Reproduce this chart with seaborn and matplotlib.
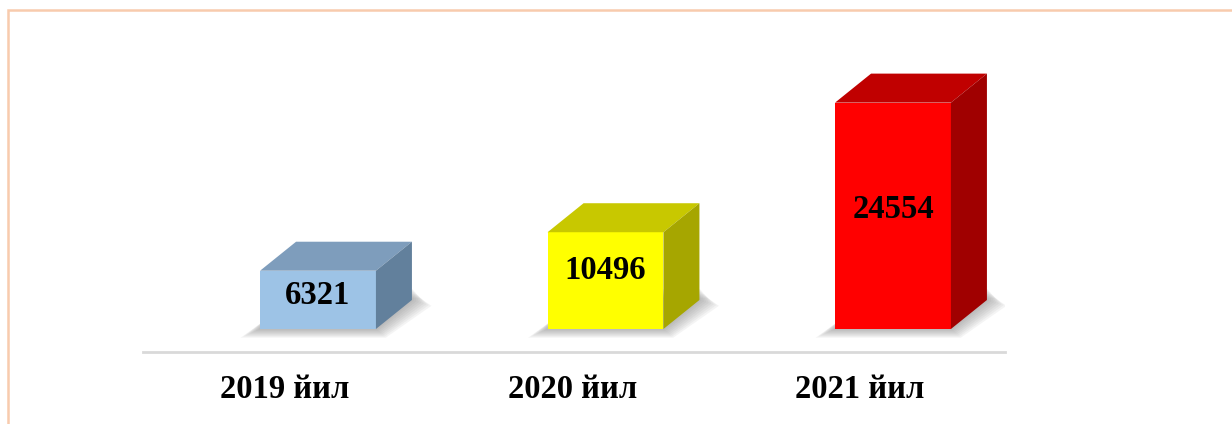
import matplotlib.pyplot as plt
import seaborn as sns
import pandas as pd
from matplotlib.patches import Polygon, Rectangle
from matplotlib.transforms import ScaledTranslation

# data
years = ['2019 йил', '2020 йил', '2021 йил']
values = [6321, 10496, 24554]
front_colors = ['#9DC3E6', '#FFFF00', '#FF0000']
top_colors = ['#7E9DBC', '#C8C800', '#C00000']
side_colors = ['#62809C', '#A6A600', '#A00000']

df = pd.DataFrame({'year': years, 'value': values})

sns.set_style('white')
plt.rcParams['font.family'] = ['Liberation Serif', 'DejaVu Serif']

W, H = 1232, 424
fig = plt.figure(figsize=(W / 100, H / 100), dpi=100)

# axes placed in pixel terms: baseline line at y=352, x from 143 to 1005
ax = fig.add_axes([143 / W, (H - 352) / H, (1005 - 143) / W, (352 - 40) / H])

sns.barplot(data=df, x='year', y='value', hue='year', palette=front_colors,
            width=0.403, legend=False, ax=ax, saturation=1, zorder=3)

k = 0.00922  # px per unit
ax.set_ylim(-23 / k, 289 / k)
ax.set_xlim(-175 / 287.5, 2 + 112 / 287.5)

# depth of the 3d effect in data units
dx = 36 / 287.5
dy = 29 / k
px_x = 1 / 287.5
px_y = 1 / k

label_pos = [0.58, 0.60, 0.53]

for i, bar in enumerate(ax.patches):
    x0 = bar.get_x()
    x1 = x0 + bar.get_width()
    h = bar.get_height()
    bar.set_edgecolor('none')
    # top face
    ax.add_patch(Polygon([(x0, h), (x1, h), (x1 + dx, h + dy), (x0 + dx, h + dy)],
                         closed=True, fc=top_colors[i], ec='none', zorder=3))
    # side face
    ax.add_patch(Polygon([(x1, 0), (x1 + dx, dy), (x1 + dx, h + dy), (x1, h)],
                         closed=True, fc=side_colors[i], ec='none', zorder=3))
    # soft shadow, layered so it fades outward
    for s in range(8):
        g = 2 + s * 2.5
        ax.add_patch(Polygon([(x0 - g * px_x, -g * 0.45 * px_y),
                              (x1 + g * 0.5 * px_x, -g * 0.45 * px_y),
                              (x1 + dx + g * px_x, dy - g * 0.3 * px_y),
                              (x1 + dx + g * 0.4 * px_x, dy + (12 - g * 0.5) * px_y),
                              (x0 + dx, dy + (12 - g * 0.5) * px_y)],
                             closed=True, fc='#6E6E6E', ec='none', alpha=0.07, zorder=2))
    ax.text((x0 + x1) / 2, h * label_pos[i], f'{values[i]}',
            ha='center', va='center', fontsize=23.5,
            fontweight='bold', color='black', zorder=4)

ax.set_xlabel('')
ax.set_ylabel('')
ax.set_yticks([])
ax.tick_params(axis='x', length=0, pad=16, labelcolor='black')
for lbl in ax.get_xticklabels():
    lbl.set_fontsize(23.5)
    lbl.set_fontweight('bold')
    lbl.set_transform(lbl.get_transform() + ScaledTranslation(-33 / 100, 0, fig.dpi_scale_trans))

for side in ['top', 'right', 'left']:
    ax.spines[side].set_visible(False)
ax.spines['bottom'].set_color('#D9D9D9')
ax.spines['bottom'].set_linewidth(2)
ax.patch.set_alpha(0)

# frame around the figure
fig.patches.append(Rectangle((8 / W, -0.1), 1.2, (H - 9.5) / H + 0.1,
                             transform=fig.transFigure, fill=False,
                             ec='#F8CBAD', lw=1.8, zorder=0))

fig.savefig('out.png', dpi=100)
